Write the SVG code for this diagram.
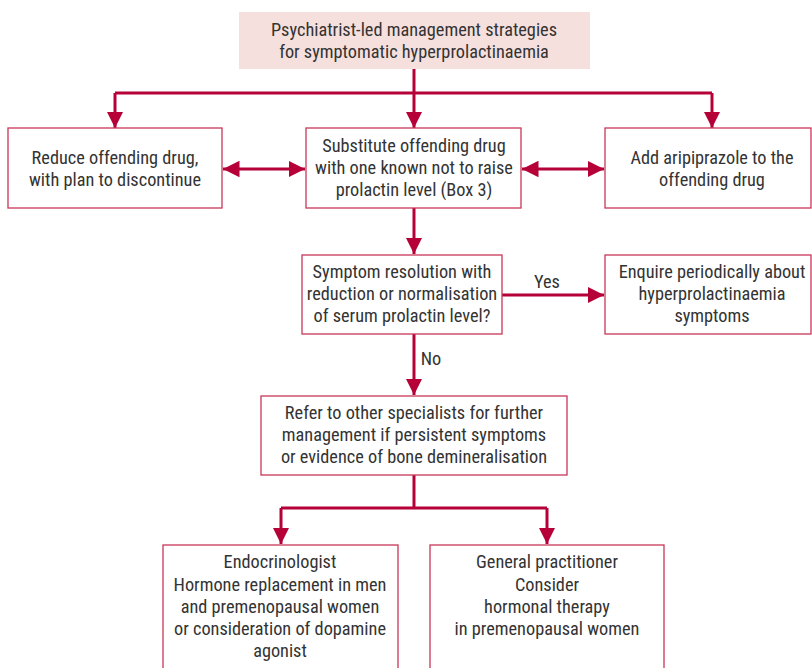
<svg xmlns="http://www.w3.org/2000/svg" width="812" height="668" viewBox="0 0 812 668">
<defs>
<style>
text{font-family:"Roboto Condensed","Roboto","Liberation Sans",sans-serif;font-size:18.3px;fill:#333;text-anchor:middle}
.b{fill:#fff;stroke:#c8375a;stroke-width:1.3}
.c{fill:none;stroke:#b50038;stroke-width:3}
</style>
<marker id="a" viewBox="0 0 10 10" refX="10" refY="5" markerWidth="5.5" markerHeight="5.5" orient="auto-start-reverse" markerUnits="strokeWidth"><path d="M0,0L10,5L0,10z" fill="#b50038"/></marker>
</defs>
<g id="connectors">
<path class="c" d="M414,69V93"/>
<path class="c" d="M115,93H712"/>
<path class="c" d="M115,93V128" marker-end="url(#a)"/>
<path class="c" d="M414,93V128" marker-end="url(#a)"/>
<path class="c" d="M712,93V128" marker-end="url(#a)"/>
<path class="c" d="M223,169H305" marker-start="url(#a)" marker-end="url(#a)"/>
<path class="c" d="M522,169H604" marker-start="url(#a)" marker-end="url(#a)"/>
<path class="c" d="M414,208V254" marker-end="url(#a)"/>
<path class="c" d="M502,295H604" marker-end="url(#a)"/>
<path class="c" d="M414,334V395" marker-end="url(#a)"/>
<path class="c" d="M414,475V508"/>
<path class="c" d="M281,508H547"/>
<path class="c" d="M281,508V544" marker-end="url(#a)"/>
<path class="c" d="M547,508V544" marker-end="url(#a)"/>
<text x="547" y="288">Yes</text>
<text x="431" y="365">No</text>
</g>
<g id="top">
<rect x="239" y="12" width="351" height="57" fill="#f6e0dd"/>
<text x="414" y="36">Psychiatrist-led management strategies</text>
<text x="414" y="58">for symptomatic hyperprolactinaemia</text>
</g>
<g id="reduce">
<rect class="b" x="8" y="128" width="214" height="80"/>
<text x="115" y="164">Reduce offending drug,</text>
<text x="115" y="186">with plan to discontinue</text>
</g>
<g id="substitute">
<rect class="b" x="306" y="128" width="215" height="80"/>
<text x="414" y="152">Substitute offending drug</text>
<text x="414" y="174">with one known not to raise</text>
<text x="414" y="196">prolactin level (Box 3)</text>
</g>
<g id="add">
<rect class="b" x="605" y="128" width="206" height="80"/>
<text x="712" y="164">Add aripiprazole to the</text>
<text x="712" y="186">offending drug</text>
</g>
<g id="decision">
<rect class="b" x="302" y="255" width="200" height="79"/>
<text x="402" y="278">Symptom resolution with</text>
<text x="402" y="300">reduction or normalisation</text>
<text x="402" y="322">of serum prolactin level?</text>
</g>
<g id="enquire">
<rect class="b" x="605" y="255" width="206" height="79"/>
<text x="712" y="278">Enquire periodically about</text>
<text x="712" y="300">hyperprolactinaemia</text>
<text x="712" y="322">symptoms</text>
</g>
<g id="refer">
<rect class="b" x="261" y="396" width="306" height="79"/>
<text x="414" y="419">Refer to other specialists for further</text>
<text x="414" y="441">management if persistent symptoms</text>
<text x="414" y="463">or evidence of bone demineralisation</text>
</g>
<g id="endo">
<rect class="b" x="163" y="545" width="235" height="130"/>
<text x="280" y="568" fill="#222">Endocrinologist</text>
<text x="280" y="591">Hormone replacement in men</text>
<text x="280" y="613">and premenopausal women</text>
<text x="280" y="635">or consideration of dopamine</text>
<text x="280" y="657">agonist</text>
</g>
<g id="gp">
<rect class="b" x="430" y="545" width="234" height="130"/>
<text x="547" y="568" fill="#222">General practitioner</text>
<text x="547" y="591">Consider</text>
<text x="547" y="613">hormonal therapy</text>
<text x="547" y="635">in premenopausal women</text>
</g>
</svg>
